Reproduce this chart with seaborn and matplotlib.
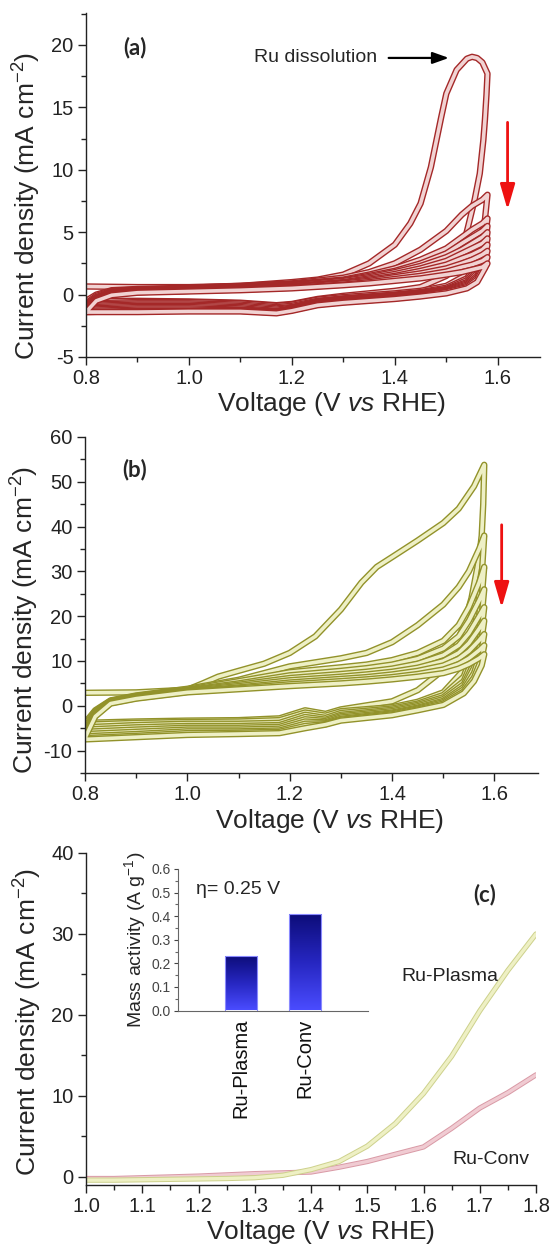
import numpy as np
import pandas as pd
import matplotlib
matplotlib.use("Agg")
import matplotlib.pyplot as plt
import matplotlib.patheffects as pe
from matplotlib.ticker import AutoMinorLocator, FormatStrFormatter
from matplotlib.colors import LinearSegmentedColormap
import seaborn as sns

sns.set_style("ticks")
plt.rcParams['font.family'] = ['Liberation Sans', 'DejaVu Sans']
plt.rcParams['axes.unicode_minus'] = False
plt.rcParams['mathtext.fontset'] = 'custom'
plt.rcParams['mathtext.rm'] = 'Liberation Sans'
plt.rcParams['mathtext.it'] = 'Liberation Sans:italic'
plt.rcParams['mathtext.bf'] = 'Liberation Sans:bold'

# ---------------- Panel (a): Ru-Conv CV cycles ----------------
A_C1_FWD_V = [0.80, 0.90, 1.00, 1.10, 1.20, 1.25, 1.30, 1.35, 1.40, 1.43, 1.45, 1.47, 1.48,
              1.49, 1.50, 1.52, 1.54, 1.55, 1.56, 1.57, 1.58]
A_C1_FWD_I = [0.65, 0.60, 0.60, 0.70, 1.00, 1.20, 1.60, 2.50, 4.00, 5.70, 7.30, 10.2, 12.2,
              14.2, 16.1, 18.0, 18.9, 19.05, 18.95, 18.6, 17.7]
A_C1_REV_V = [1.58, 1.578, 1.575, 1.572, 1.565, 1.555, 1.542, 1.529, 1.513, 1.50, 1.45, 1.40,
              1.30, 1.25, 1.20, 1.17, 1.10, 1.00, 0.90, 0.80]
A_C1_REV_I = [17.7, 16.0, 14.0, 12.4, 9.7, 7.6, 5.4, 3.3, 2.0, 1.5, 0.6, 0.3,
              -0.1, -0.35, -0.75, -0.85, -0.65, -0.55, -0.5, -0.5]

A_GRID_F = [0.80, 0.82, 0.85, 0.90, 1.00, 1.10, 1.20, 1.30, 1.35, 1.40, 1.45, 1.50, 1.53, 1.55, 1.57, 1.58]
A_GRID_R = [1.58, 1.575, 1.56, 1.54, 1.50, 1.45, 1.40, 1.30, 1.25, 1.20, 1.17, 1.10, 1.00, 0.90, 0.80]

A_FWD = [
    [-0.5, 0.0, 0.35, 0.45, 0.55, 0.7, 0.9, 1.35, 1.8, 2.5, 3.6, 5.1, 6.4, 7.1, 7.6, 8.0],
    [-0.7, -0.1, 0.3, 0.4, 0.5, 0.65, 0.85, 1.2, 1.6, 2.1, 2.8, 3.7, 4.6, 5.2, 5.7, 6.1],
    [-0.8, -0.2, 0.25, 0.35, 0.45, 0.6, 0.8, 1.15, 1.5, 1.9, 2.5, 3.3, 4.1, 4.6, 5.1, 5.5],
    [-0.9, -0.25, 0.2, 0.3, 0.4, 0.55, 0.75, 1.1, 1.4, 1.8, 2.3, 3.0, 3.6, 4.1, 4.6, 5.0],
    [-1.0, -0.3, 0.15, 0.3, 0.4, 0.5, 0.7, 1.0, 1.3, 1.65, 2.1, 2.7, 3.3, 3.7, 4.1, 4.5],
    [-1.1, -0.35, 0.1, 0.25, 0.35, 0.5, 0.65, 0.95, 1.2, 1.5, 1.9, 2.4, 2.9, 3.2, 3.6, 4.0],
    [-1.2, -0.4, 0.05, 0.2, 0.3, 0.45, 0.6, 0.9, 1.1, 1.4, 1.7, 2.1, 2.5, 2.8, 3.2, 3.5],
    [-1.3, -0.45, 0.0, 0.2, 0.3, 0.4, 0.55, 0.8, 1.0, 1.25, 1.5, 1.85, 2.2, 2.4, 2.7, 3.0],
    [-1.4, -0.5, -0.05, 0.15, 0.25, 0.35, 0.5, 0.75, 0.9, 1.1, 1.3, 1.6, 1.8, 2.0, 2.2, 2.5],
]
A_REV = [
    [8.0, 6.0, 3.0, 1.6, 0.7, 0.3, 0.1, -0.2, -0.4, -0.8, -0.9, -0.7, -0.6, -0.6, -0.7],
    [6.1, 4.5, 2.4, 1.3, 0.55, 0.2, 0.0, -0.3, -0.5, -0.9, -1.0, -0.8, -0.7, -0.7, -0.8],
    [5.5, 4.0, 2.1, 1.15, 0.45, 0.15, -0.05, -0.35, -0.55, -1.0, -1.1, -0.9, -0.8, -0.8, -0.9],
    [5.0, 3.6, 1.9, 1.0, 0.4, 0.1, -0.1, -0.4, -0.6, -1.05, -1.2, -1.0, -0.9, -0.9, -1.0],
    [4.5, 3.3, 1.7, 0.9, 0.35, 0.05, -0.15, -0.45, -0.65, -1.1, -1.3, -1.1, -1.0, -1.0, -1.1],
    [4.0, 3.0, 1.5, 0.8, 0.3, 0.0, -0.2, -0.5, -0.7, -1.15, -1.35, -1.2, -1.1, -1.1, -1.2],
    [3.5, 2.7, 1.35, 0.7, 0.25, -0.05, -0.25, -0.55, -0.75, -1.2, -1.4, -1.25, -1.2, -1.2, -1.3],
    [3.0, 2.4, 1.2, 0.6, 0.2, -0.1, -0.3, -0.6, -0.8, -1.25, -1.45, -1.3, -1.3, -1.3, -1.4],
    [2.5, 2.1, 1.0, 0.5, 0.1, -0.15, -0.35, -0.65, -0.85, -1.3, -1.5, -1.35, -1.35, -1.4, -1.4],
]

# ---------------- Panel (b): Ru-Plasma CV cycles ----------------
B_C1_FWD_V = [0.80, 0.90, 1.00, 1.03, 1.06, 1.10, 1.15, 1.20, 1.25, 1.30, 1.34, 1.37, 1.40,
              1.45, 1.50, 1.53, 1.56, 1.58]
B_C1_FWD_I = [2.9, 3.0, 3.6, 5.0, 6.5, 7.8, 9.4, 11.8, 15.5, 21.5, 27.5, 31.0, 33.2,
              36.9, 40.8, 44.0, 49.0, 53.8]
B_C1_REV_V = [1.58, 1.578, 1.575, 1.57, 1.565, 1.555, 1.54, 1.52, 1.50, 1.45, 1.40, 1.30,
              1.27, 1.23, 1.18, 1.10, 1.00, 0.90, 0.80]
B_C1_REV_I = [53.8, 45.0, 38.0, 33.0, 30.0, 24.0, 18.0, 12.0, 8.0, 3.5, 1.0, -0.8,
              -1.8, -1.0, -2.8, -3.2, -3.3, -3.5, -3.8]

B_GRID_F = [0.80, 0.82, 0.85, 0.90, 1.00, 1.10, 1.20, 1.30, 1.35, 1.40, 1.45, 1.50, 1.53, 1.55, 1.57, 1.58]
B_GRID_R = [1.58, 1.575, 1.56, 1.54, 1.50, 1.45, 1.40, 1.30, 1.27, 1.23, 1.18, 1.10, 1.00, 0.90, 0.80]

B_FWD = [
    [-3.8, -1.0, 1.2, 2.3, 3.8, 5.8, 8.8, 10.6, 11.8, 14.2, 18.0, 22.6, 26.5, 30.0, 35.0, 38.0],
    [-4.2, -1.2, 1.1, 2.2, 3.6, 5.5, 7.5, 8.6, 9.2, 10.2, 11.8, 14.5, 18.0, 22.0, 27.5, 31.0],
    [-4.8, -1.4, 1.0, 2.1, 3.5, 5.0, 6.8, 7.8, 8.4, 9.2, 10.5, 12.8, 15.5, 19.0, 23.5, 26.0],
    [-5.3, -1.6, 0.9, 2.0, 3.4, 4.7, 6.2, 7.1, 7.6, 8.3, 9.4, 11.3, 13.5, 16.2, 20.0, 22.0],
    [-5.8, -1.8, 0.8, 1.9, 3.3, 4.4, 5.7, 6.5, 7.0, 7.6, 8.5, 10.0, 11.8, 14.0, 17.2, 19.0],
    [-6.3, -2.0, 0.7, 1.8, 3.2, 4.1, 5.2, 6.0, 6.4, 7.0, 7.8, 9.0, 10.5, 12.2, 14.6, 16.0],
    [-6.8, -2.2, 0.6, 1.7, 3.1, 3.9, 4.8, 5.5, 5.9, 6.4, 7.1, 8.1, 9.3, 10.6, 12.4, 13.5],
    [-7.2, -2.4, 0.5, 1.6, 3.0, 3.7, 4.4, 5.0, 5.4, 5.9, 6.5, 7.3, 8.3, 9.3, 10.6, 11.5],
]
B_REV = [
    [38.0, 29.0, 16.0, 8.0, 3.0, 0.9, -0.3, -1.2, -2.2, -1.5, -3.2, -3.5, -3.6, -3.8, -4.2],
    [31.0, 24.0, 13.0, 6.5, 2.4, 0.5, -0.6, -1.6, -2.7, -2.0, -3.8, -4.0, -4.0, -4.3, -4.8],
    [26.0, 20.0, 11.0, 5.5, 1.9, 0.2, -0.9, -2.0, -3.1, -2.5, -4.3, -4.5, -4.5, -4.8, -5.3],
    [22.0, 17.0, 9.5, 4.8, 1.5, -0.1, -1.2, -2.3, -3.4, -3.0, -4.7, -4.9, -4.9, -5.3, -5.8],
    [19.0, 15.0, 8.5, 4.2, 1.1, -0.4, -1.5, -2.6, -3.7, -3.5, -5.1, -5.3, -5.3, -5.8, -6.3],
    [16.0, 12.5, 7.3, 3.7, 0.8, -0.6, -1.7, -2.9, -3.9, -4.0, -5.5, -5.7, -5.7, -6.3, -6.8],
    [13.5, 10.5, 6.3, 3.2, 0.5, -0.8, -1.9, -3.1, -4.1, -4.5, -5.8, -6.0, -6.1, -6.7, -7.2],
    [11.5, 9.0, 5.5, 2.8, 0.2, -1.0, -2.1, -3.3, -4.2, -5.0, -6.1, -6.3, -6.5, -7.0, -7.5],
]

# ---------------- Panel (c): LSV + inset ----------------
C_V = [1.00, 1.05, 1.10, 1.15, 1.20, 1.25, 1.30, 1.35, 1.40, 1.45, 1.50, 1.55, 1.60, 1.65, 1.70, 1.75, 1.80]
C_PLASMA = [-0.4, -0.4, -0.35, -0.3, -0.25, -0.2, -0.1, 0.2, 0.9, 1.9, 3.8, 6.6, 10.3, 14.9, 20.5, 25.5, 30.0]
C_CONV = [-0.2, -0.2, -0.1, 0.0, 0.1, 0.25, 0.4, 0.5, 0.6, 1.2, 1.9, 2.8, 3.7, 6.0, 8.5, 10.4, 12.6]

INSET_CATS = ["Ru-Plasma", "Ru-Conv"]
INSET_VALS = [0.23, 0.41]

A_XTICKS = [0.8, 1.0, 1.2, 1.4, 1.6]
A_YTICKS = [-5, 0, 5, 10, 15, 20]
B_YTICKS = [-10, 0, 10, 20, 30, 40, 50, 60]
C_XTICKS = [1.0, 1.1, 1.2, 1.3, 1.4, 1.5, 1.6, 1.7, 1.8]
C_YTICKS = [0, 10, 20, 30, 40]
INSET_YTICKS = [0.0, 0.1, 0.2, 0.3, 0.4, 0.5, 0.6]

W, H = 551, 1249
fig = plt.figure(figsize=(W / 100, H / 100), dpi=100)


def px_rect(l, t, r, b):
    return [l / W, 1 - b / H, (r - l) / W, (b - t) / H]


def build_cv(c1fv, c1fi, c1rv, c1ri, gf, gr, fwd, rev):
    parts = [pd.DataFrame({"V": c1fv + c1rv, "I": c1fi + c1ri, "cycle": 1})]
    for k, (f, r) in enumerate(zip(fwd, rev)):
        parts.append(pd.DataFrame({"V": gf + gr, "I": f + r, "cycle": k + 2}))
    return pd.concat(parts, ignore_index=True)


def style_axis(ax, fs=14.5):
    sns.despine(ax=ax)
    for s in ["left", "bottom"]:
        ax.spines[s].set_linewidth(1.0)
        ax.spines[s].set_color("#222222")
    ax.tick_params(which="major", direction="out", length=6, width=1.0, labelsize=fs,
                   pad=3, colors="#222222")
    ax.tick_params(which="minor", direction="out", length=3.5, width=1.0, colors="#222222")
    ax.xaxis.set_minor_locator(AutoMinorLocator(2))
    ax.yaxis.set_minor_locator(AutoMinorLocator(2))


YLAB = "Current density (mA cm$^{-2}$)"
XLAB = "Voltage (V $\\mathit{vs}$ RHE)"
YFS, XFS = 19, 19

# ---- (a)
axa = fig.add_axes(px_rect(86, 13, 540, 357))
dfa = build_cv(A_C1_FWD_V, A_C1_FWD_I, A_C1_REV_V, A_C1_REV_I, A_GRID_F, A_GRID_R, A_FWD, A_REV)
sns.lineplot(data=dfa, x="V", y="I", units="cycle", estimator=None, sort=False, ax=axa,
             color="#f1d3d3", linewidth=2.6, legend=False,
             path_effects=[pe.Stroke(linewidth=4.6, foreground="#a42828"), pe.Normal()])
axa.set_xlim(0.8, 1.682)
axa.set_ylim(-5, 22.56)
axa.set_xticks(A_XTICKS)
axa.set_yticks(A_YTICKS)
axa.xaxis.set_major_formatter(FormatStrFormatter("%.1f"))
style_axis(axa)
axa.set_ylabel(YLAB, fontsize=YFS)
axa.set_xlabel(XLAB, fontsize=XFS)
axa.yaxis.set_label_coords(-0.095, 0.44)
axa.xaxis.set_label_coords(0.54, -0.097)
axa.annotate("", xy=(1.505, 18.96), xytext=(1.388, 18.96),
             arrowprops=dict(arrowstyle="-|>,head_length=0.7,head_width=0.25", color="black",
                             lw=1.6, mutation_scale=14, shrinkA=0, shrinkB=0))
axa.text(1.365, 18.96, "Ru dissolution", fontsize=14, ha="right", va="center")
axa.annotate("", xy=(1.619, 6.8), xytext=(1.619, 13.8),
             arrowprops=dict(arrowstyle="-|>,head_length=1.1,head_width=0.32", color="#ee1111",
                             lw=2.0, mutation_scale=14, shrinkA=0, shrinkB=0))
fig.text(135 / W, 1 - 48 / H, "(a)", fontsize=16, fontweight="bold", family="Lato",
         ha="center", va="center")

# ---- (b)
axb = fig.add_axes(px_rect(85, 437, 538, 773))
dfb = build_cv(B_C1_FWD_V, B_C1_FWD_I, B_C1_REV_V, B_C1_REV_I, B_GRID_F, B_GRID_R, B_FWD, B_REV)
sns.lineplot(data=dfb, x="V", y="I", units="cycle", estimator=None, sort=False, ax=axb,
             color="#eef0c6", linewidth=2.6, legend=False,
             path_effects=[pe.Stroke(linewidth=4.6, foreground="#92922a"), pe.Normal()])
axb.set_xlim(0.8, 1.685)
axb.set_ylim(-15, 60)
axb.set_xticks(A_XTICKS)
axb.set_yticks(B_YTICKS)
axb.xaxis.set_major_formatter(FormatStrFormatter("%.1f"))
style_axis(axb)
axb.set_ylabel(YLAB, fontsize=YFS)
axb.set_xlabel(XLAB, fontsize=XFS)
axb.yaxis.set_label_coords(-0.097, 0.455)
axb.xaxis.set_label_coords(0.54, -0.102)
axb.annotate("", xy=(1.614, 21.9), xytext=(1.614, 40.4),
             arrowprops=dict(arrowstyle="-|>,head_length=1.1,head_width=0.32", color="#ee1111",
                             lw=2.0, mutation_scale=14, shrinkA=0, shrinkB=0))
fig.text(135 / W, 1 - 470 / H, "(b)", fontsize=16, fontweight="bold", family="Lato",
         ha="center", va="center")

# ---- (c)
axc = fig.add_axes(px_rect(86, 853, 536, 1185))
dfc = pd.DataFrame({"V": C_V + C_V, "I": C_PLASMA + C_CONV,
                    "sample": ["Ru-Plasma"] * len(C_V) + ["Ru-Conv"] * len(C_V)})
sns.lineplot(data=dfc[dfc["sample"] == "Ru-Conv"], x="V", y="I", ax=axc, sort=False,
             color="#f0cbd2", linewidth=2.4, legend=False,
             path_effects=[pe.Stroke(linewidth=3.8, foreground="#d99aa6"), pe.Normal()])
sns.lineplot(data=dfc[dfc["sample"] == "Ru-Plasma"], x="V", y="I", ax=axc, sort=False,
             color="#eef0c4", linewidth=2.4, legend=False,
             path_effects=[pe.Stroke(linewidth=3.8, foreground="#cdd18c"), pe.Normal()])
axc.set_xlim(1.0, 1.8)
axc.set_ylim(-1, 40)
axc.set_xticks(C_XTICKS)
axc.set_yticks(C_YTICKS)
axc.xaxis.set_major_formatter(FormatStrFormatter("%.1f"))
style_axis(axc)
axc.set_ylabel(YLAB, fontsize=YFS)
axc.set_xlabel(XLAB, fontsize=XFS)
axc.yaxis.set_label_coords(-0.094, 0.49)
axc.xaxis.set_label_coords(0.522, -0.100)
axc.text(1.647, 24.7, "Ru-Plasma", fontsize=14, ha="center", va="center", color="#222222")
axc.text(1.72, 2.2, "Ru-Conv", fontsize=14, ha="center", va="center", color="#222222")
fig.text(485 / W, 1 - 895 / H, "(c)", fontsize=16, fontweight="bold", family="Lato",
         ha="center", va="center")
fig.text(238 / W, 1 - 890 / H, "\u03b7= 0.25 V", fontsize=14, ha="center", va="center")

# ---- inset
ins = fig.add_axes(px_rect(178, 869, 368, 1010.5))
ins.patch.set_alpha(0)
sns.barplot(x=INSET_CATS, y=INSET_VALS, ax=ins, width=0.5, color="#2a2ad0",
            edgecolor="#8a8aff", linewidth=0.8)
grad = np.linspace(0, 1, 256).reshape(-1, 1)
cmap = LinearSegmentedColormap.from_list("bb", ["#4a4cff", "#2626c0", "#0c0c78"])
for p in ins.patches:
    x0, y0 = p.get_x(), p.get_y()
    w, h = p.get_width(), p.get_height()
    im = ins.imshow(grad, extent=[x0, x0 + w, y0, y0 + h], origin="lower", cmap=cmap,
                    aspect="auto", zorder=p.get_zorder() + 0.1)
    im.set_clip_path(p)
    p.set_facecolor("none")
    p.set_zorder(p.get_zorder() + 0.2)
ins.set_xlim(-0.98, 1.98)
ins.set_ylim(0, 0.6)
ins.set_yticks(INSET_YTICKS)
ins.yaxis.set_major_formatter(FormatStrFormatter("%.1f"))
sns.despine(ax=ins)
for s in ["left", "bottom"]:
    ins.spines[s].set_linewidth(0.8)
    ins.spines[s].set_color("#666666")
ins.tick_params(axis="y", which="major", direction="out", length=3, width=0.8, labelsize=10,
                pad=2, colors="#444444")
ins.yaxis.set_minor_locator(AutoMinorLocator(2))
ins.tick_params(axis="y", which="minor", direction="out", length=2, width=0.8, colors="#666666")
ins.tick_params(axis="x", length=0, labelsize=14.5, pad=6, labelrotation=90)
for t in ins.get_xticklabels():
    t.set_color("#111111")
ins.set_ylabel("Mass activity (A g$^{-1}$)", fontsize=14, labelpad=3)
ins.set_xlabel("")

fig.savefig("out.png", dpi=100)
